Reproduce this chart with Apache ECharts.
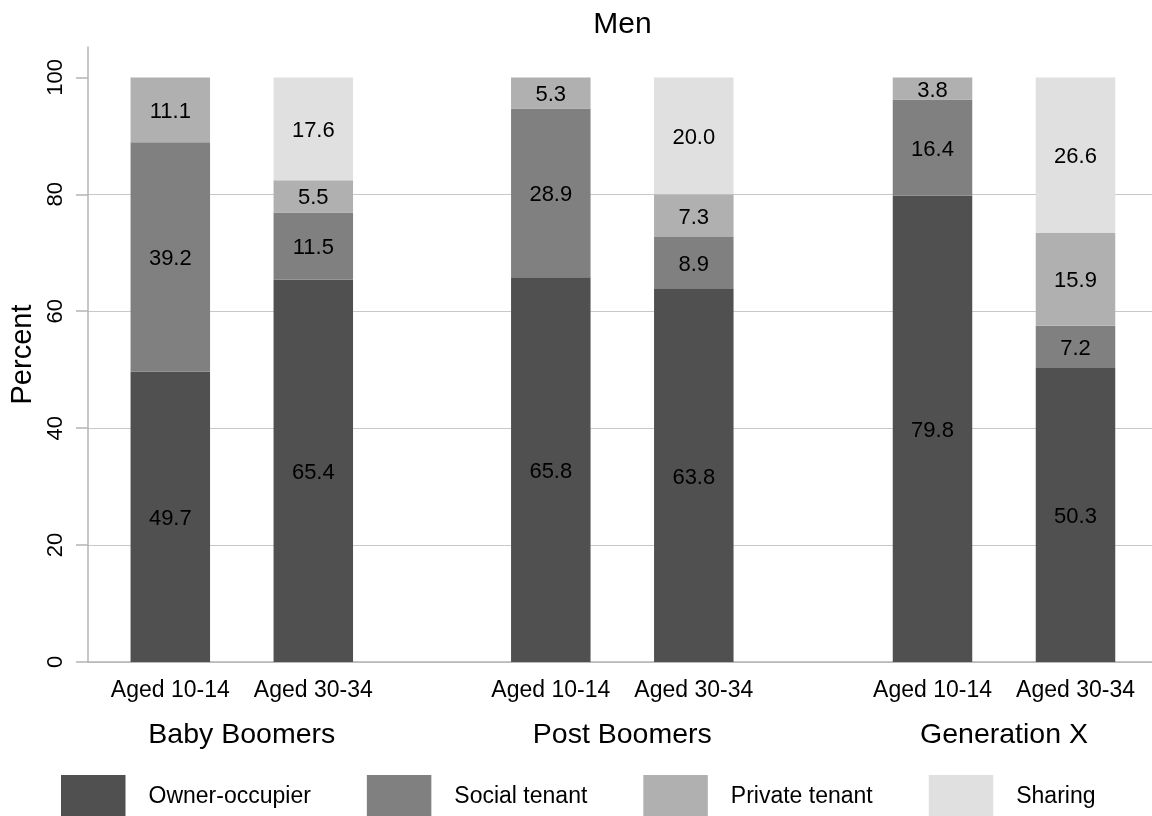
<!DOCTYPE html>
<html>
<head>
<meta charset="utf-8">
<script src="https://cdn.jsdelivr.net/npm/echarts@6/dist/echarts.min.js"></script>
<style>
html,body{margin:0;padding:0;background:#fff;}
#chart{width:1152px;height:816px;}
</style>
</head>
<body>
<div id="chart"></div>
<script>
// ---- data ----
const title = 'Men';
const groups = ['Baby Boomers', 'Post Boomers', 'Generation X'];
const ages = ['Aged 10-14', 'Aged 30-34'];
const tenures = ['Owner-occupier', 'Social tenant', 'Private tenant', 'Sharing'];
// values per bar, order: BB 10-14, BB 30-34, PB 10-14, PB 30-34, GX 10-14, GX 30-34
const ownerOccupier = [49.7, 65.4, 65.8, 63.8, 79.8, 50.3];
const socialTenant  = [39.2, 11.5, 28.9, 8.9, 16.4, 7.2];
const privateTenant = [11.1, 5.5, 5.3, 7.3, 3.8, 15.9];
const sharing       = [null, 17.6, null, 20.0, null, 26.6];
const yTicks = [0, 20, 40, 60, 80, 100];

// ---- style ----
const FONT = "'Liberation Sans', Arial, sans-serif";
const colors = ['#505050', '#808080', '#b0b0b0', '#e0e0e0'];
const seriesValues = [ownerOccupier, socialTenant, privateTenant, sharing];
const Y_MAX = 105.2;
const TOP = 47, BOTTOM = 154;
const groupLefts = [98.8, 479.3, 861];
const groupWidth = 286;

const grids = [{left: 85, right: 0, top: TOP, bottom: BOTTOM}];
groupLefts.forEach(l => grids.push({left: l, width: groupWidth, top: TOP, bottom: BOTTOM}));

const xAxes = [{
  gridIndex: 0, type: 'value', min: 0, max: 1,
  axisLine: {show: true, lineStyle: {color: '#b4b4b4', width: 1.5}},
  axisTick: {show: false}, axisLabel: {show: false}, splitLine: {show: false}
}];
const yAxes = [{
  gridIndex: 0, type: 'value', min: 0, max: Y_MAX, interval: 20,
  name: 'Percent', nameLocation: 'middle', nameGap: 48,
  nameTextStyle: {fontSize: 29, color: '#000', fontFamily: FONT},
  axisLine: {show: true, lineStyle: {color: '#b4b4b4', width: 1.5}},
  axisTick: {show: true, length: 12, lineStyle: {color: '#b4b4b4', width: 1.5}, customValues: yTicks},
  axisLabel: {rotate: 90, margin: 21, fontSize: 22, color: '#000', fontFamily: FONT, customValues: yTicks},
  splitLine: {show: true, showMaxLine: false, lineStyle: {color: '#c8c8c8', width: 1}}
}];
groups.forEach((g, gi) => {
  xAxes.push({
    gridIndex: gi + 1, type: 'category', data: ages,
    name: g, nameLocation: 'middle', nameGap: 59,
    nameTextStyle: {fontSize: 28.5, color: '#000', fontFamily: FONT},
    axisLine: {show: false}, axisTick: {show: false},
    axisLabel: {interval: 0, margin: 17, fontSize: 23, color: '#000', fontFamily: FONT}
  });
  yAxes.push({
    gridIndex: gi + 1, type: 'value', min: 0, max: Y_MAX, show: false,
    splitLine: {show: false}
  });
});

const series = [];
groups.forEach((g, gi) => {
  tenures.forEach((t, ti) => {
    series.push({
      name: t, type: 'bar', stack: 'g' + gi,
      xAxisIndex: gi + 1, yAxisIndex: gi + 1,
      barWidth: 79.5,
      data: seriesValues[ti].slice(gi * 2, gi * 2 + 2),
      itemStyle: {color: colors[ti]},
      label: {
        show: true, position: 'inside', offset: [0, 2], fontSize: 22, color: '#000', fontFamily: FONT,
        formatter: p => (p.value == null ? '' : Number(p.value).toFixed(1))
      },
      emphasis: {disabled: true},
      animation: false
    });
  });
});

const chart = echarts.init(document.getElementById('chart'), null, {renderer: 'canvas'});
chart.setOption({
  backgroundColor: '#fff',
  animation: false,
  title: {
    text: title, left: 622.5, textAlign: 'center', top: 10, padding: 0,
    textStyle: {fontSize: 30, fontWeight: 'normal', color: '#000', fontFamily: FONT}
  },
  legend: {
    data: tenures, left: 61, top: 775, orient: 'horizontal', padding: 0,
    icon: 'rect', itemWidth: 64.5, itemHeight: 44, itemGap: 56,
    textStyle: {fontSize: 23, color: '#000', fontFamily: FONT, padding: [2, 0, 0, 18]},
    selectedMode: false
  },
  grid: grids,
  xAxis: xAxes,
  yAxis: yAxes,
  series: series
});
</script>
</body>
</html>
